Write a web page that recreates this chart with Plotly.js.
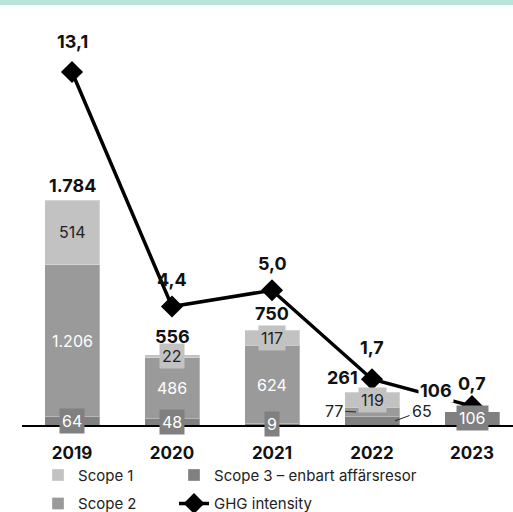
<!DOCTYPE html>
<html>
<head>
<meta charset="utf-8">
<script src="https://cdn.plot.ly/plotly-3.0.1.min.js"></script>
<style>
  html, body { margin: 0; padding: 0; background: #fff; }
  #wrap { position: relative; width: 513px; height: 512px; }
  #band { position: absolute; left: 0; top: 0; width: 513px; height: 5px; background: #b9e4dc; z-index: 10; }
  #chart { position: absolute; left: 0; top: 0; width: 513px; height: 512px; }
</style>
</head>
<body>
<div id="wrap"><div id="band"></div><div id="chart"></div></div>
<script>
// ---- data ----
const years = ['2019', '2020', '2021', '2022', '2023'];
const scope1 = [514, 22, 117, 119, 0];
const scope2 = [1206, 486, 624, 77, 0];
const scope3 = [64, 48, 9, 65, 106];
const ghgIntensity = [13.1, 4.4, 5.0, 1.7, 0.7];
const seriesNames = ['Scope 1', 'Scope 2', 'Scope 3 – enbart affärsresor', 'GHG intensity'];

// ---- styling ----
const C1 = '#c2c2c2', C2 = '#9a9a9a', C3 = '#808080';
const FONT = 'Inter, "Open Sans", sans-serif';
const TXT = '#111';

const fmtInt = n => String(n).replace(/\B(?=(\d{3})+(?!\d))/g, '.');
const fmtDec = v => v.toFixed(1).replace('.', ',');
const totals = years.map((_, i) => scope1[i] + scope2[i] + scope3[i]);

const segLine = { color: 'rgba(255,255,255,0.3)', width: 1 };

const traces = [
  { type: 'bar', name: seriesNames[2], x: years, y: scope3, marker: { color: C3, line: segLine },
    legend: 'legend2', legendgroup: 'g3', legendrank: 1, hoverinfo: 'skip' },
  { type: 'bar', name: seriesNames[1], x: years, y: scope2, marker: { color: C2, line: segLine },
    legend: 'legend', legendgroup: 'g2', legendrank: 2, hoverinfo: 'skip' },
  { type: 'bar', name: seriesNames[0], x: years, y: scope1, marker: { color: C1, line: segLine },
    legend: 'legend', legendgroup: 'g1', legendrank: 1, hoverinfo: 'skip' },
  { type: 'scatter', mode: 'lines+markers', name: seriesNames[3], x: years, y: ghgIntensity, yaxis: 'y2',
    line: { color: '#000', width: 3.5 }, marker: { symbol: 'diamond', size: 17, color: '#000' },
    legend: 'legend2', legendgroup: 'g4', legendrank: 2, hoverinfo: 'skip', cliponaxis: false }
];

const annotations = [];
// segment labels
const segs = [
  { vals: scope3, base: i => 0, bg: C3, fc: '#fff' },
  { vals: scope2, base: i => scope3[i], bg: C2, fc: '#fff' },
  { vals: scope1, base: i => scope3[i] + scope2[i], bg: C1, fc: '#222' }
];
// callouts for thin segments in 2022 (index 3)
const callouts = { '1-3': { ax: -22, ay: -1, dx: -0.16 }, '0-3': { ax: 27, ay: -10, dx: 0.23 } };
segs.forEach((s, k) => {
  s.vals.forEach((v, i) => {
    if (!v) return;
    const mid = s.base(i) + v / 2;
    const co = callouts[k + '-' + i];
    if (co) {
      annotations.push({ x: i + co.dx, y: mid, xref: 'x', yref: 'y', text: fmtInt(v),
        showarrow: true, arrowhead: 0, arrowwidth: 1, arrowcolor: '#222', ax: co.ax, ay: co.ay,
        standoff: 0, startstandoff: 1, font: { family: FONT, size: 16, color: '#222' } });
    } else {
      annotations.push({ x: i, y: mid, xref: 'x', yref: 'y', text: fmtInt(v), showarrow: false,
        bgcolor: s.bg, borderpad: 2, font: { family: FONT, size: 16, color: s.fc } });
    }
  });
});
// totals
const totShift = [[0, 15], [0, 18], [0, 17], [-30, 15], [-36, 21]];
totals.forEach((t, i) => {
  annotations.push({ x: i, y: t, xref: 'x', yref: 'y', text: '<b>' + fmtInt(t) + '</b>',
    showarrow: false, xshift: totShift[i][0], yshift: totShift[i][1], bgcolor: i === 4 ? '#fff' : 'rgba(0,0,0,0)',
    font: { family: FONT, size: 18, color: TXT } });
});
// GHG labels
const ghgShift = [31, 27, 27, 32, 23];
ghgIntensity.forEach((v, i) => {
  annotations.push({ x: i, y: v, xref: 'x', yref: 'y2', text: '<b>' + fmtDec(v) + '</b>',
    showarrow: false, yshift: ghgShift[i], font: { family: FONT, size: 18, color: TXT } });
});

const layout = {
  width: 513, height: 512,
  margin: { l: 22, r: 0, t: 30, b: 87, autoexpand: false },
  paper_bgcolor: '#fff', plot_bgcolor: '#fff',
  font: { family: FONT, color: TXT },
  barmode: 'stack', bargap: 0.45,
  separators: ',.',
  showlegend: true,
  xaxis: { type: 'category', range: [-0.5, 4.41], showline: true, linecolor: '#000', linewidth: 2,
    showgrid: false, zeroline: false, ticks: '', fixedrange: true, ticklabelstandoff: 12,
    tickfont: { family: FONT, size: 17, color: TXT, weight: 'bold' } },
  yaxis: { range: [0, 3132], visible: false, fixedrange: true },
  yaxis2: { range: [0, 14.66], overlaying: 'y', visible: false, fixedrange: true },
  legend: { orientation: 'v', x: 0.0326, xanchor: 'left', yref: 'container', y: 0.104, yanchor: 'top',
    traceorder: 'grouped', tracegroupgap: 6, font: { family: FONT, size: 15, color: '#222' }, bgcolor: 'rgba(0,0,0,0)' },
  legend2: { orientation: 'v', x: 0.3096, xanchor: 'left', yref: 'container', y: 0.104, yanchor: 'top',
    traceorder: 'grouped', tracegroupgap: 6, font: { family: FONT, size: 15, color: '#222' }, bgcolor: 'rgba(0,0,0,0)' },
  annotations: annotations
};

Plotly.newPlot('chart', traces, layout, { staticPlot: true, displayModeBar: false });
</script>
</body>
</html>
